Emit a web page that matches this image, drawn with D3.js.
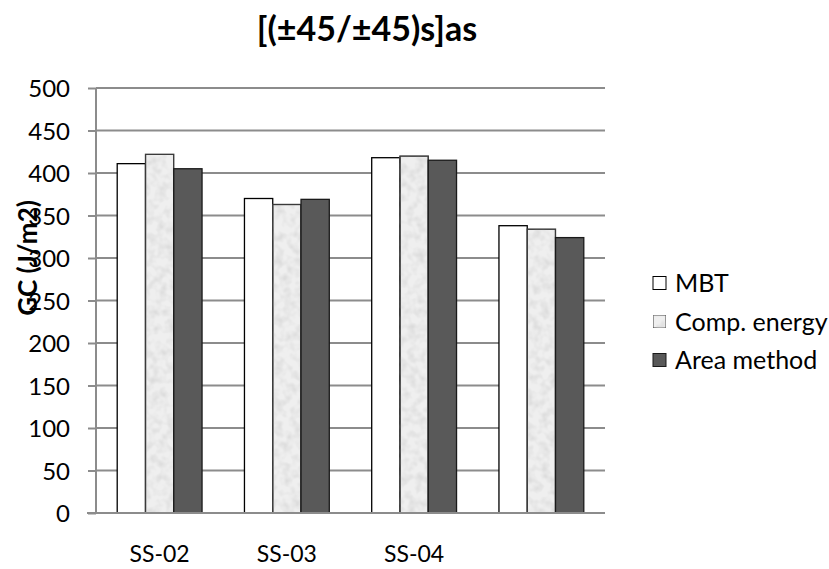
<!DOCTYPE html>
<html><head><meta charset="utf-8">
<script src="https://cdn.jsdelivr.net/npm/d3@7"></script>
<style>body{margin:0;background:#fff}svg{display:block}text{font-family:Lato,"Open Sans",sans-serif;fill:#000}</style>
</head><body>
<svg id="chart" width="829" height="569"></svg>
<script>
const categories = ["SS-02", "SS-03", "SS-04", ""];
const seriesNames = ["MBT", "Comp. energy", "Area method"];
const mbt = [411, 370, 418, 338];
const compEnergy = [422, 363, 420, 334];
const areaMethod = [405, 369, 415, 324];
const yTicks = [0, 50, 100, 150, 200, 250, 300, 350, 400, 450, 500];
const title = "[(±45/±45)s]as";
const yTitle = "GC (J/m2)";

const series = [mbt, compEnergy, areaMethod];
const svg = d3.select("#chart");
const m = {left: 96, right: 605, top: 88, bottom: 513};

const defs = svg.append("defs");
const f = defs.append("filter").attr("id","noise").attr("x",0).attr("y",0).attr("width","100%").attr("height","100%");
f.append("feTurbulence").attr("type","fractalNoise").attr("baseFrequency","0.12").attr("numOctaves",2).attr("seed",3).attr("result","t");
f.append("feColorMatrix").attr("in","t").attr("type","matrix")
 .attr("values","0 0 0 0 0  0 0 0 0 0  0 0 0 0 0  0 0 0 -1.0 0.62").attr("result","a");
f.append("feComposite").attr("in","a").attr("in2","SourceGraphic").attr("operator","in").attr("result","ac");
f.append("feFlood").attr("flood-color","#c4c4c4").attr("result","g");
f.append("feComposite").attr("in","g").attr("in2","ac").attr("operator","in").attr("result","gs");
f.append("feMerge").selectAll("feMergeNode").data(["SourceGraphic","gs"]).enter().append("feMergeNode").attr("in",d=>d);

const x = d3.scaleBand().domain(d3.range(categories.length)).range([m.left, m.right]).paddingInner(0).paddingOuter(0);
const y = d3.scaleLinear().domain([0, 500]).range([m.bottom, m.top]);
const bw = x.bandwidth() / 4.5;

// gridlines
svg.append("g").selectAll("line").data(yTicks.filter(d=>d>0)).enter().append("line")
  .attr("x1", m.left).attr("x2", m.right).attr("y1", d=>y(d)).attr("y2", d=>y(d))
  .attr("stroke","#8c8c8c").attr("stroke-width",2);

// y axis
const yAxis = d3.axisLeft(y).tickValues(yTicks).tickSize(8).tickPadding(18).tickFormat(d3.format("d"));
const ya = svg.append("g").attr("transform",`translate(${m.left},0)`).call(yAxis);
ya.select(".domain").attr("stroke","#8c8c8c").attr("stroke-width",2).attr("d",`M0,${m.top}V${m.bottom}`);
ya.selectAll(".tick line").attr("stroke","#8c8c8c").attr("stroke-width",2);
ya.selectAll(".tick text").style("font-family","Lato, sans-serif").style("font-size","24px").attr("fill","#000").attr("dy","0.36em");

// bars
const fills = ["#ffffff", "#efefef", "#595959"];
const strokes = ["#000", "#3a3a3a", "#1a1a1a"];
series.forEach((vals, si) => {
  const g = svg.append("g");
  g.selectAll("rect").data(vals).enter().append("rect")
    .attr("x", (d,i)=> x(i) + bw*0.75 + si*bw)
    .attr("y", d=>y(d)).attr("width", bw).attr("height", d=>y(0)-y(d))
    .attr("fill", fills[si]).attr("stroke", strokes[si]).attr("stroke-width",1.3)
    .attr("filter", si===1 ? "url(#noise)" : null);
  if (si===1) {
    g.selectAll("rect.o").data(vals).enter().append("rect").attr("class","o")
      .attr("x", (d,i)=> x(i) + bw*0.75 + si*bw)
      .attr("y", d=>y(d)).attr("width", bw).attr("height", d=>y(0)-y(d))
      .attr("fill","none").attr("stroke", strokes[si]).attr("stroke-width",1.3);
  }
});

// x axis
const xa = svg.append("g").attr("transform",`translate(0,${m.bottom})`)
  .call(d3.axisBottom(x).tickSize(0).tickFormat(i=>categories[i]));
xa.select(".domain").attr("stroke","#8c8c8c").attr("stroke-width",2).attr("d",`M${m.left-9},0H${m.right}`);
xa.selectAll(".tick text").style("font-family","Lato, sans-serif").style("font-size","23px").attr("fill","#000")
  .attr("dy", null).attr("y", 49);

// title
svg.append("text").attr("x",367).attr("y",41).attr("text-anchor","middle")
  .style("font-size","34px").style("font-weight","bold").text(title);
// y title
svg.append("text").attr("transform","translate(37,258) rotate(-90)").attr("text-anchor","middle")
  .style("font-size","26px").style("font-weight","bold").text(yTitle);

// legend
const lg = svg.append("g");
seriesNames.forEach((n,i)=>{
  const cy = 283 + i*38.5;
  lg.append("rect").attr("x",653).attr("y",cy-6.5).attr("width",13).attr("height",13)
    .attr("fill",fills[i]).attr("stroke",strokes[i]).attr("stroke-width",1)
    .attr("filter", i===1 ? "url(#noise)" : null);
  lg.append("text").attr("x",675).attr("y",cy).attr("dy","0.36em").style("font-size","25px").text(n);
});
</script>
</body></html>
